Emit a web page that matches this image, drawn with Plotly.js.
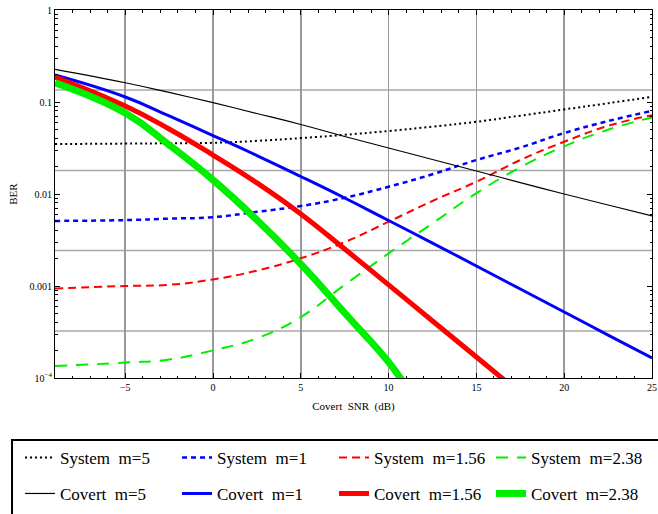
<!DOCTYPE html>
<html>
<head>
<meta charset="utf-8">
<script src="https://cdn.plot.ly/plotly-3.0.1.min.js"></script>
<style>html,body{margin:0;padding:0;background:#fff;}</style>
</head>
<body>
<div id="chart" style="width:658px;height:514px;"></div>
<script>
// ---- data ----
const snr = [-9, -5, -2.5, 0, 2.5, 5, 7.5, 10, 12.5, 15, 17.5, 20, 22.5, 25];
const snrCovert156 = [-9, -5, -2.5, 0, 2.5, 5, 7.5, 10, 12.5, 15, 17];
const snrCovert238 = [-9, -5, -2.5, 0, 2.5, 5, 7.5, 10, 11];

const system5   = [0.0349, 0.0353, 0.0356, 0.036, 0.0378, 0.0405, 0.044, 0.0484, 0.054, 0.061, 0.071, 0.083, 0.097, 0.114];
const system1   = [0.0051, 0.0052, 0.0054, 0.0056, 0.0064, 0.0074, 0.0091, 0.012, 0.0164, 0.0234, 0.032, 0.046, 0.062, 0.080];
const system156 = [0.00094, 0.0010, 0.00103, 0.00118, 0.00147, 0.0020, 0.0030, 0.0050, 0.0084, 0.0136, 0.0234, 0.037, 0.055, 0.072];
const system238 = [0.000135, 0.000147, 0.000159, 0.00020, 0.00027, 0.00046, 0.00103, 0.00226, 0.0048, 0.0102, 0.0195, 0.033, 0.050, 0.068];

const covert5   = [0.2266, 0.162, 0.127, 0.0983, 0.075, 0.0569, 0.0422, 0.0316, 0.0237, 0.0178, 0.0133, 0.0100, 0.0076, 0.00577];
const covert1   = [0.1965, 0.1133, 0.0705, 0.0432, 0.0262, 0.0155, 0.00904, 0.00515, 0.00293, 0.00165, 0.000927, 0.000522, 0.000293, 0.000165];
const covert156 = [0.187, 0.0905, 0.0509, 0.0265, 0.0132, 0.00607, 0.00252, 0.00103, 0.000417, 0.000169, 0.0000819];
const covert238 = [0.162, 0.0759, 0.0341, 0.0142, 0.00522, 0.00173, 0.000509, 0.000149, 0.00008];

const seriesNames = ['System  m=5', 'System  m=1', 'System  m=1.56', 'System  m=2.38',
                     'Covert  m=5', 'Covert  m=1', 'Covert  m=1.56', 'Covert  m=2.38'];

const xTickVals = [-5, 0, 5, 10, 15, 20, 25];
const xTickText = ['\u22125', '0', '5', '10', '15', '20', '25'];
const yTickVals = [1e-4, 1e-3, 1e-2, 0.1, 1];
const yTickText = ['10<sup>\u22124</sup>', '0.001', '0.01', '0.1', '1'];
const yGridVals = [0.135, 0.018, 0.00243, 0.000324];

// ---- traces ----
const serif = 'Liberation Serif, Times New Roman, serif';
function tr(x, y, name, color, width, dash, legend) {
  return {x: x, y: y, name: name, type: 'scatter', mode: 'lines',
          line: {color: color, width: width, dash: dash, shape: 'spline', smoothing: 1.3},
          legend: legend, hoverinfo: 'skip'};
}
const traces = [
  tr(snr, system5,   seriesNames[0], '#000000', 2,   '2px,3px',  'legend'),
  tr(snr, system1,   seriesNames[1], '#0000ff', 2.5, '5px,4px',  'legend'),
  tr(snr, system156, seriesNames[2], '#ff0000', 2,   '8px,5px',  'legend'),
  tr(snr, system238, seriesNames[3], '#00ee00', 2,   '12px,9px', 'legend'),
  tr(snr, covert5,          seriesNames[4], '#000000', 1.2, 'solid', 'legend2'),
  tr(snr, covert1,          seriesNames[5], '#0000ff', 3,   'solid', 'legend2'),
  tr(snrCovert156, covert156, seriesNames[6], '#ff0000', 5, 'solid', 'legend2'),
  tr(snrCovert238, covert238, seriesNames[7], '#00ee00', 7, 'solid', 'legend2')
];

const minorY = [];
for (let d = -4; d < 0; d++) for (let k = 2; k <= 9; k++) minorY.push(k * Math.pow(10, d));

const shapes = yGridVals.map(v => ({type: 'line', xref: 'paper', yref: 'y', x0: 0, x1: 1, y0: v, y1: v,
  line: {color: '#a8a8a8', width: 1.5}, layer: 'below'}));
shapes.push({type: 'rect', xref: 'paper', yref: 'paper', x0: -0.072, x1: 1.2, y0: -0.1685, y1: -0.7,
  line: {color: '#000', width: 2}, fillcolor: 'rgba(0,0,0,0)'});

const legendCommon = {orientation: 'h', xanchor: 'left', yanchor: 'middle',
  entrywidth: 112, entrywidthmode: 'pixels', font: {family: serif, size: 17, color: '#000'},
  bgcolor: 'rgba(0,0,0,0)', borderwidth: 0, traceorder: 'normal'};

const layout = {
  width: 658, height: 514,
  margin: {l: 55, r: 6, t: 10, b: 136, autoexpand: false},
  paper_bgcolor: '#fff', plot_bgcolor: '#fff',
  font: {family: serif, color: '#000'},
  showlegend: true,
  xaxis: {range: [-9, 25], tickmode: 'array', tickvals: xTickVals, ticktext: xTickText,
    ticks: 'inside', ticklen: 5, tickcolor: '#000', tickwidth: 1,
    showline: true, linecolor: '#000', linewidth: 1, mirror: 'allticks',
    showgrid: true, gridcolor: '#999', gridwidth: 1.5, zeroline: false,
    tickfont: {size: 10, family: serif},
    minor: {dtick: 1, ticks: 'inside', ticklen: 2.5, tickcolor: '#000', showgrid: false},
    title: {text: 'Covert  SNR  (dB)', font: {size: 11, family: serif}, standoff: 10},
    automargin: false},
  yaxis: {type: 'log', range: [-4, 0], tickmode: 'array', tickvals: yTickVals, ticktext: yTickText,
    ticks: 'inside', ticklen: 5, tickcolor: '#000', tickwidth: 1,
    showline: true, linecolor: '#000', linewidth: 1, mirror: 'allticks',
    showgrid: false, zeroline: false,
    tickfont: {size: 10, family: serif},
    minor: {tickvals: minorY, ticks: 'inside', ticklen: 2.5, tickcolor: '#000', showgrid: false},
    title: {text: 'BER', font: {size: 11, family: serif}, standoff: 9},
    automargin: false},
  shapes: shapes,
  legend: Object.assign({}, legendCommon, {x: -0.0586, y: -0.2174}),
  legend2: Object.assign({}, legendCommon, {x: -0.0586, y: -0.315})
};

Plotly.newPlot('chart', traces, layout, {displayModeBar: false, staticPlot: true});
</script>
</body>
</html>
